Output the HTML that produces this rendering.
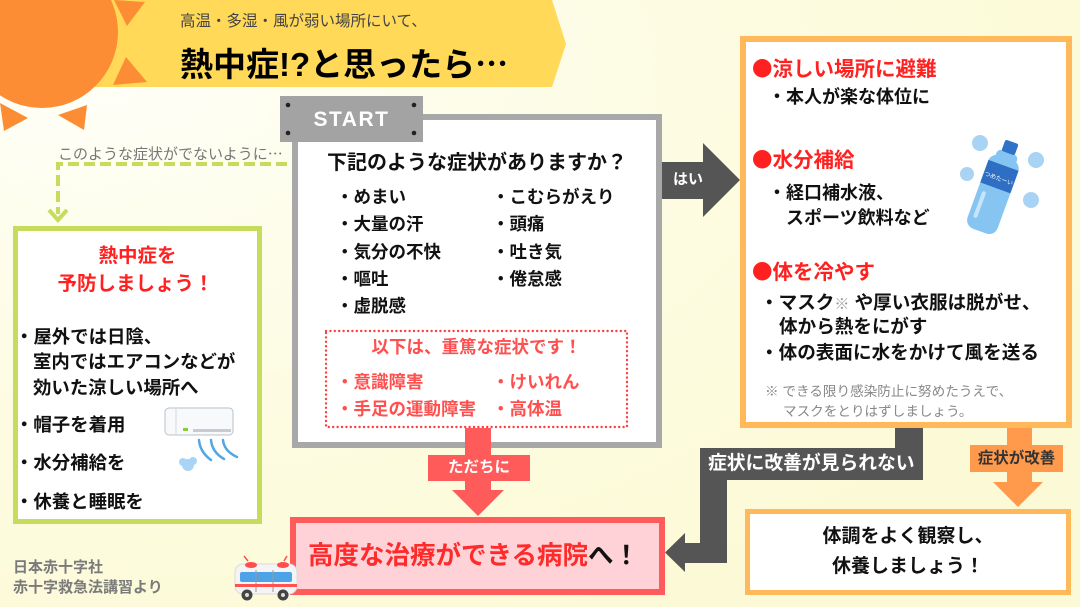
<!DOCTYPE html>
<html><head><meta charset="utf-8">
<style>
*{margin:0;padding:0;box-sizing:border-box}
body{width:1080px;height:607px;overflow:hidden;position:relative;font-family:"Liberation Sans","Noto Sans CJK JP",sans-serif;background:#fcfbdc}
.t{position:absolute;white-space:nowrap;line-height:1;font-weight:700;color:#111}
.j{font-family:"Noto Sans CJK JP",sans-serif}
svg{position:absolute;left:0;top:0}
.r{color:#ff2020}
</style></head><body>
<svg width="1080" height="607" viewBox="0 0 1080 607">
<defs>
<radialGradient id="bg" cx="0.08" cy="0.12" r="1"><stop offset="0" stop-color="#fffff8"/><stop offset="0.5" stop-color="#fdfce4"/><stop offset="1" stop-color="#fcfad6"/></radialGradient>
</defs>
<rect width="1080" height="607" fill="url(#bg)"/>
<!-- banner -->
<polygon points="0,0 552,0 566,44 552,87 0,87" fill="#ffd957"/>
<!-- sun -->
<circle cx="42" cy="32" r="76" fill="#fd8d34"/>
<polygon points="114,0 145,2 127,26" fill="#fd8d34"/>
<polygon points="126,57 147,82 113,85" fill="#fd8d34"/>
<polygon points="0,103 28,118 4,131" fill="#fd8d34"/>
<polygon points="58,115 87,105 84,130" fill="#fd8d34"/>

<!-- green dashed connector -->
<path d="M287,164 H58 V214" fill="none" stroke="#c6dc5c" stroke-width="4" stroke-dasharray="11 5"/>
<polyline points="49,210 58,220 67,210" fill="none" stroke="#c6dc5c" stroke-width="4"/>
<!-- green box -->
<rect x="15.5" y="228.5" width="244" height="293" fill="#fff" stroke="#c6dc5c" stroke-width="5"/>

<!-- main box -->
<rect x="295" y="117" width="364" height="328" fill="#fff" stroke="#a8a8a8" stroke-width="6"/>
<rect x="326" y="331" width="301" height="96" fill="none" stroke="#ff3b3b" stroke-width="2.4" stroke-dasharray="0 4.4" stroke-linecap="round"/>
<!-- START -->
<rect x="280" y="96" width="143" height="46" fill="#a3a3a3"/>
<circle cx="288" cy="105" r="2.3" fill="#222"/>
<circle cx="414" cy="105" r="2.3" fill="#222"/>
<circle cx="288" cy="133" r="2.3" fill="#222"/>
<circle cx="414" cy="133" r="2.3" fill="#222"/>

<!-- hai arrow -->
<polygon points="662,162 703,162 703,143 740,180 703,217 703,199 662,199" fill="#555"/>

<!-- orange box -->
<rect x="743" y="39" width="326" height="386" fill="#fff" stroke="#ffb95a" stroke-width="6"/>

<!-- red arrow -->
<rect x="465" y="428" width="26" height="63" fill="#ff5b5b"/>
<rect x="428" y="455" width="102" height="26" fill="#ff5b5b"/>
<polygon points="452,490 504,490 478,516" fill="#ff5b5b"/>

<!-- hospital -->
<rect x="293" y="520" width="369" height="72" fill="#ffd2d8" stroke="#ff5b5b" stroke-width="6"/>

<!-- gray connector -->
<polygon points="895,428 923,428 923,480 727,480 727,563 685,563 685,572 665,552.5 685,533 685,543 700,543 700,448 895,448" fill="#555"/>

<!-- orange arrow -->
<rect x="1007" y="428" width="25" height="55" fill="#ff9a4d"/>
<rect x="970" y="445" width="93" height="27" fill="#ff9a4d"/>
<polygon points="993,482 1043,482 1018,507" fill="#ff9a4d"/>

<!-- bottom right box -->
<rect x="747.5" y="511.5" width="321" height="81" fill="#fff" stroke="#ffb95a" stroke-width="5"/>

<!-- bottle -->
<g fill="#a9d3f3">
<circle cx="980" cy="143" r="8"/><circle cx="1036" cy="160" r="8"/><circle cx="967" cy="174" r="7"/><circle cx="1031" cy="200" r="8"/>
</g>
<g transform="rotate(20 996 186)">
<rect x="980" y="156" width="32" height="78" rx="9" fill="#86c4f2"/>
<rect x="985" y="150" width="22" height="12" rx="5" fill="#86c4f2"/>
<rect x="989" y="139" width="14" height="12" rx="2" fill="#2f72c6"/>
<rect x="980" y="164" width="32" height="24" fill="#2e6fc4"/>
<text x="996" y="180" font-size="6" fill="#fff" text-anchor="middle" font-family="Noto Sans CJK JP">つめたーい</text>
<rect x="985" y="195" width="4" height="28" rx="2" fill="#c7e5fa"/>
</g>

<!-- air conditioner -->
<rect x="165" y="408" width="68" height="27" rx="4" fill="#f7f9fb" stroke="#b9c1c9" stroke-width="1"/>
<line x1="176" y1="409" x2="176" y2="434" stroke="#d4d9de" stroke-width="1"/>
<rect x="183" y="428" width="5" height="3" fill="#8ccc3a"/>
<rect x="193" y="429" width="38" height="3" fill="#c7ccd2"/>
<g fill="none" stroke="#4fa7e6" stroke-width="2.5" stroke-linecap="round">
<path d="M199,440 Q200,452 211,460"/>
<path d="M211,440 Q212,452 224,459"/>
<path d="M223,440 Q224,451 237,457"/>
</g>
<circle cx="188" cy="465" r="6" fill="#a9d4f5"/>
<circle cx="183" cy="462" r="4" fill="#a9d4f5"/>
<circle cx="193" cy="461" r="4" fill="#a9d4f5"/>

<!-- ambulance -->
<g>
<line x1="244" y1="556" x2="248" y2="561" stroke="#ff4d4d" stroke-width="1.5"/>
<line x1="287" y1="556" x2="284" y2="561" stroke="#ff4d4d" stroke-width="1.5"/>
<rect x="235" y="564" width="62" height="30" rx="8" fill="#f4f4f4" stroke="#dadada"/>
<ellipse cx="251" cy="565" rx="6" ry="3" fill="#ff4d4d"/>
<ellipse cx="283" cy="565" rx="6" ry="3" fill="#ff4d4d"/>
<rect x="240" y="572" width="52" height="10" rx="2" fill="#4ea3e8"/>
<line x1="256" y1="570" x2="256" y2="592" stroke="#999" stroke-width="1"/>
<line x1="273" y1="570" x2="273" y2="592" stroke="#999" stroke-width="1"/>
<rect x="235" y="584" width="62" height="3" fill="#ff5252"/>
<circle cx="247" cy="595" r="5.5" fill="#444"/><circle cx="247" cy="595" r="2" fill="#ddd"/>
<circle cx="283" cy="595" r="5.5" fill="#444"/><circle cx="283" cy="595" r="2" fill="#ddd"/>
</g>
</svg>

<!-- header -->
<div class="t" style="left:180px;top:14px;font-size:15.5px;font-weight:400;color:#444">高温・多湿・風が弱い場所にいて、</div>
<div class="t" style="left:180px;top:46px;font-size:33px;color:#000">熱中症!?と思ったら<span class="j">…</span></div>

<!-- START -->
<div class="t" style="left:280px;top:109px;width:143px;text-align:center;font-size:21px;color:#fff;letter-spacing:1.5px">START</div>

<!-- main box -->
<div class="t" style="left:327px;top:153px;font-size:20px">下記のような症状がありますか？</div>
<div class="t" style="left:336px;top:189px;font-size:17.5px">・めまい</div>
<div class="t" style="left:336px;top:216px;font-size:17.5px">・大量の汗</div>
<div class="t" style="left:336px;top:244px;font-size:17.5px">・気分の不快</div>
<div class="t" style="left:336px;top:271px;font-size:17.5px">・嘔吐</div>
<div class="t" style="left:336px;top:298px;font-size:17.5px">・虚脱感</div>
<div class="t" style="left:492px;top:189px;font-size:17.5px">・こむらがえり</div>
<div class="t" style="left:492px;top:216px;font-size:17.5px">・頭痛</div>
<div class="t" style="left:492px;top:244px;font-size:17.5px">・吐き気</div>
<div class="t" style="left:492px;top:271px;font-size:17.5px">・倦怠感</div>

<div class="t" style="left:326px;width:301px;text-align:center;top:339px;font-size:17.5px;color:#ff5050">以下は、重篤な症状です！</div>
<div class="t" style="left:336px;top:374px;font-size:17.5px;color:#ff5050">・意識障害</div>
<div class="t" style="left:336px;top:401px;font-size:17.5px;color:#ff5050">・手足の運動障害</div>
<div class="t" style="left:492px;top:374px;font-size:17.5px;color:#ff5050">・けいれん</div>
<div class="t" style="left:492px;top:401px;font-size:17.5px;color:#ff5050">・高体温</div>

<div class="t" style="left:428px;width:102px;text-align:center;top:460px;font-size:15.5px;color:#fff">ただちに</div>

<div class="t" style="left:308px;top:544px;font-size:25.5px;color:#ff2a2a">高度な治療ができる病院<span style="color:#111">へ！</span></div>

<!-- hai -->
<div class="t" style="left:673px;top:172px;font-size:15px;color:#fff">はい</div>

<!-- orange box -->
<div class="t r" style="left:752px;top:57px;font-size:20.5px"><span class="j">●</span>涼しい場所に避難</div>
<div class="t" style="left:768px;top:88px;font-size:18px">・本人が楽な体位に</div>
<div class="t r" style="left:752px;top:148px;font-size:20.5px"><span class="j">●</span>水分補給</div>
<div class="t" style="left:768px;top:184px;font-size:18px">・経口補水液、</div>
<div class="t" style="left:786px;top:209px;font-size:18px">スポーツ飲料など</div>
<div class="t r" style="left:752px;top:260px;font-size:20.5px"><span class="j">●</span>体を冷やす</div>
<div class="t" style="left:760px;top:294px;font-size:18.6px">・マスク<span style="color:#999;font-size:15px;font-weight:400">※</span> や厚い衣服は脱がせ、</div>
<div class="t" style="left:779px;top:318px;font-size:18.6px">体から熱をにがす</div>
<div class="t" style="left:760px;top:344px;font-size:18.6px">・体の表面に水をかけて風を送る</div>
<div class="t" style="left:765px;top:385px;font-size:13.6px;font-weight:400;color:#888">※ できる限り感染防止に努めたうえで、</div>
<div class="t" style="left:783px;top:405px;font-size:13.6px;font-weight:400;color:#888">マスクをとりはずしましょう。</div>

<!-- gray / orange labels -->
<div class="t" style="left:708px;top:454px;font-size:18.8px;color:#fff">症状に改善が見られない</div>
<div class="t" style="left:970px;width:93px;text-align:center;top:451px;font-size:15.5px;color:#333">症状が改善</div>

<!-- bottom right -->
<div class="t" style="left:745px;width:326px;text-align:center;top:527px;font-size:19px">体調をよく観察し、</div>
<div class="t" style="left:745px;width:326px;text-align:center;top:557px;font-size:19px">休養しましょう！</div>

<!-- left -->
<div class="t" style="left:58px;top:146px;font-size:15px;font-weight:400;color:#777">このような症状がでないように<span class="j">…</span></div>
<div class="t r" style="left:13px;width:249px;text-align:center;top:247px;font-size:19.5px">熱中症を</div>
<div class="t r" style="left:13px;width:245px;text-align:center;top:275px;font-size:19.5px">予防しましょう！</div>
<div class="t" style="left:15px;top:328px;font-size:18.4px">・屋外では日陰、</div>
<div class="t" style="left:33px;top:353px;font-size:18.4px">室内ではエアコンなどが</div>
<div class="t" style="left:33px;top:379px;font-size:18.4px">効いた涼しい場所へ</div>
<div class="t" style="left:15px;top:416px;font-size:18.4px">・帽子を着用</div>
<div class="t" style="left:15px;top:454px;font-size:18.4px">・水分補給を</div>
<div class="t" style="left:15px;top:493px;font-size:18.4px">・休養と睡眠を</div>

<div class="t" style="left:13px;top:560px;font-size:15px;color:#7a7a7a">日本赤十字社</div>
<div class="t" style="left:13px;top:580px;font-size:15px;color:#7a7a7a">赤十字救急法講習より</div>
</body></html>
